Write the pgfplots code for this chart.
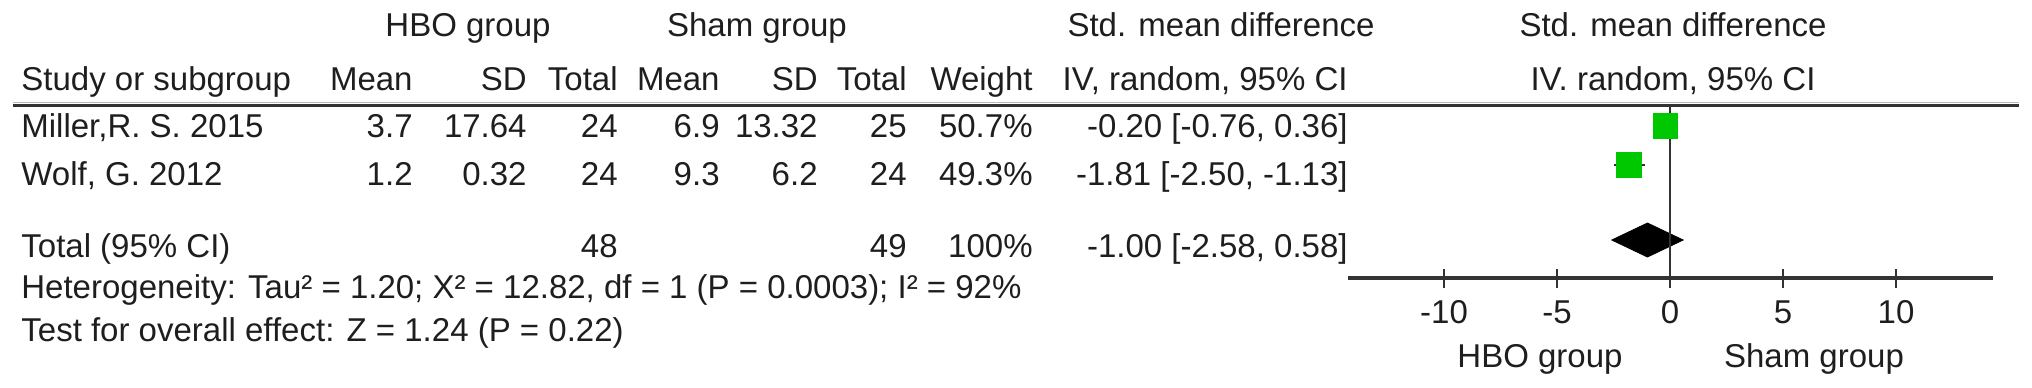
\documentclass[border=0pt]{standalone}
\usepackage{fontspec}
\setmainfont{Liberation Sans}
\usepackage{pgfplots}
\pgfplotsset{compat=1.18}
\definecolor{txt}{HTML}{1E1E1E}
\definecolor{axc}{HTML}{333333}
\definecolor{sq}{HTML}{00C800}
\newcommand{\fs}{\fontsize{16.5}{19}\selectfont}
\begin{document}
\begin{tikzpicture}[x=0.5pt,y=-0.5pt,
  t/.style={inner sep=0pt, text=txt, font=\fs},
  L/.style={t, anchor=base west},
  R/.style={t, anchor=base east},
  C/.style={t, anchor=base}]
\path[use as bounding box] (0,0) rectangle (2032,387);
% header rows
\node[C] at (468,36) {HBO group};
\node[C] at (757,36) {Sham group};
\node[C] at (1221,36) {Std. mean difference};
\node[C] at (1673,36) {Std. mean difference};
\node[L] at (21,90) {Study or subgroup};
\node[R] at (413,90) {Mean};
\node[R] at (527,90) {SD};
\node[R] at (618,90) {Total};
\node[R] at (720,90) {Mean};
\node[R] at (818,90) {SD};
\node[R] at (907,90) {Total};
\node[R] at (1033,90) {Weight};
\node[R] at (1348,90) {IV, random, 95\% CI};
\node[C] at (1673,90) {IV. random, 95\% CI};
% rule
\draw[gray!55, line width=0.5pt] (13,102) -- (2019,102);
\draw[axc, line width=1.3pt] (13,105.5) -- (2019,105.5);
% study rows
\node[L] at (21,137) {Miller,R. S. 2015};
\node[R] at (413,137) {3.7};
\node[R] at (527,137) {17.64};
\node[R] at (618,137) {24};
\node[R] at (720,137) {6.9};
\node[R] at (818,137) {13.32};
\node[R] at (907,137) {25};
\node[R] at (1033,137) {50.7\%};
\node[R] at (1348,137) {-0.20 [-0.76, 0.36]};
\node[L] at (21,185) {Wolf, G. 2012};
\node[R] at (413,185) {1.2};
\node[R] at (527,185) {0.32};
\node[R] at (618,185) {24};
\node[R] at (720,185) {9.3};
\node[R] at (818,185) {6.2};
\node[R] at (907,185) {24};
\node[R] at (1033,185) {49.3\%};
\node[R] at (1348,185) {-1.81 [-2.50, -1.13]};
\node[L] at (21,257) {Total (95\% CI)};
\node[R] at (618,257) {48};
\node[R] at (907,257) {49};
\node[R] at (1033,257) {100\%};
\node[R] at (1348,257) {-1.00 [-2.58, 0.58]};
\node[L] at (21,298) {Heterogeneity: Tau² = 1.20; X² = 12.82, df = 1 (P = 0.0003); I² = 92\%};
\node[L] at (21,341) {Test for overall effect: Z = 1.24 (P = 0.22)};
% axis labels
\node[C] at (1540,367) {HBO group};
\node[C] at (1814,367) {Sham group};
\begin{axis}[at={(674pt,-139pt)}, anchor=south west,
  scale only axis, width=322.6pt, height=87pt,
  xmin=-14.25, xmax=14.3, ymin=0, ymax=174, clip=false,
  axis x line*=bottom, axis y line=none,
  axis line style={line width=1.65pt, color=axc},
  xtick={-10,-5,0,5,10}, xticklabels={-10,-5,0,5,10},
  xtick align=center, major tick length=9.5pt,
  major tick style={line width=1pt, color=axc},
  xticklabel style={anchor=base, inner sep=0pt, yshift=-17.75pt, text=txt, font=\fs},
  ytick=\empty]
% confidence intervals
\addplot[axc, line width=1pt] coordinates {(-0.76,152) (0.36,152)};
\addplot[axc, line width=1pt] coordinates {(-2.50,113) (-1.13,113)};
% study estimates
\addplot[only marks, mark=square*, mark size=6.2pt, mark options={fill=sq, draw=sq, line width=0pt}] coordinates {(-0.20,152) (-1.81,113)};
% pooled estimate
\addplot[fill=black, draw=black] coordinates {(-2.58,38) (-1.00,55) (0.58,38) (-1.00,21)} -- cycle;
% line of no effect
\addplot[axc, line width=1.1pt] coordinates {(0,0) (0,174)};
\end{axis}
\end{tikzpicture}
\end{document}
